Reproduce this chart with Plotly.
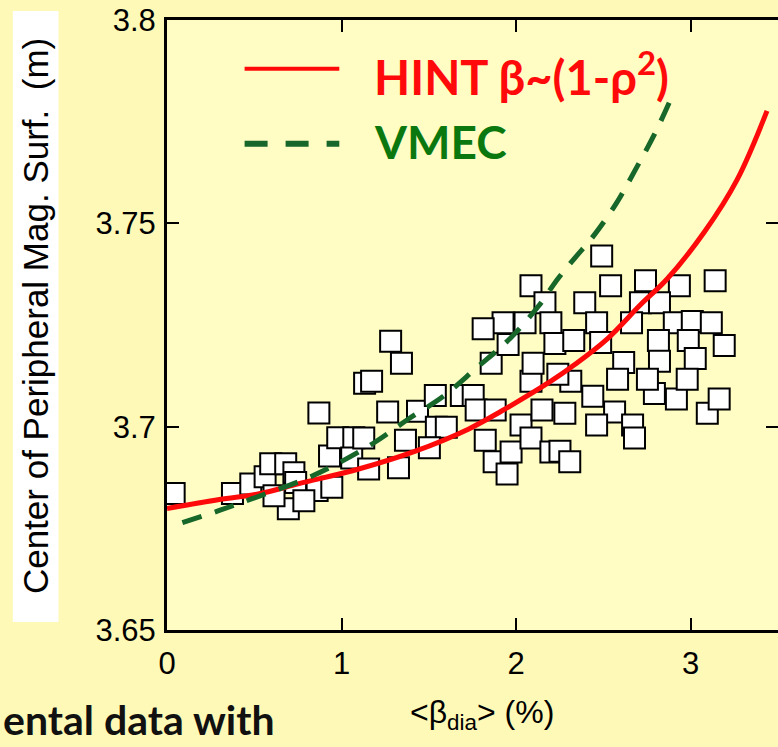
import plotly.graph_objects as go

# ---------------- data ----------------
exp_beta = [0.041, 0.375, 0.480, 0.562, 0.594, 0.680, 0.727, 0.737, 0.695, 0.860,
            0.870, 0.931, 0.978, 1.070, 0.944, 1.058, 1.132, 1.264, 1.435, 1.537,
            1.686, 1.754, 1.771, 1.880, 1.127, 1.366, 1.543, 1.600, 1.503, 1.326,
            1.155, 1.823, 1.874, 1.948, 1.971, 2.028, 2.085, 2.148, 2.199, 2.085,
            2.313, 2.439, 2.564, 2.461, 2.667, 2.678, 2.918, 3.095, 3.163, 2.251,
            2.307, 2.279, 2.792, 1.281, 1.343, 1.172, 2.085, 2.165, 1.925, 1.811,
            2.051, 2.199, 1.857, 1.954, 2.097, 2.222, 2.239, 2.490, 2.541, 2.741,
            2.935, 3.140, 2.393, 2.712, 2.821, 2.461, 2.661, 2.906, 3.009, 3.118,
            2.330, 2.815, 2.986, 3.192, 2.616, 2.821, 3.026, 2.484, 2.581, 2.752,
            2.980, 0.613, 0.784]
exp_rc = [3.6836, 3.6836, 3.6859, 3.6877, 3.6909, 3.6909, 3.6887, 3.6863, 3.6798, 3.6843,
          3.7034, 3.6928, 3.6973, 3.6973, 3.6851, 3.6923, 3.7107, 3.7036, 3.7038, 3.7077,
          3.7077, 3.7077, 3.7041, 3.7041, 3.6972, 3.6967, 3.6999, 3.6999, 3.6948, 3.6899,
          3.6896, 3.6967, 3.6914, 3.6884, 3.6938, 3.7004, 3.6972, 3.7041, 3.6938, 3.7112,
          3.7112, 3.7075, 3.7036, 3.7004, 3.7004, 3.6972, 3.7068, 3.7033, 3.7068, 3.6940,
          3.6914, 3.7033, 3.7082, 3.7210, 3.7156, 3.7112, 3.7347, 3.7305, 3.7256, 3.7241,
          3.7256, 3.7256, 3.7156, 3.7202, 3.7156, 3.7205, 3.7129, 3.7420, 3.7347, 3.7359,
          3.7347, 3.7359, 3.7305, 3.7305, 3.7305, 3.7256, 3.7256, 3.7256, 3.7259, 3.7256,
          3.7212, 3.7212, 3.7212, 3.7200, 3.7158, 3.7161, 3.7168, 3.7207, 3.7117, 3.7117,
          3.7117, 3.6830, 3.6818]

hint_beta = [0.0, 0.30, 0.528, 0.756, 1.098, 1.423, 1.726, 1.914, 2.199, 2.336,
             2.524, 2.712, 2.866, 3.078, 3.266, 3.437]
hint_rc = [3.6799, 3.6821, 3.6835, 3.6860, 3.6896, 3.6940, 3.6994, 3.7038, 3.7112, 3.7153,
           3.7217, 3.7300, 3.7364, 3.7479, 3.7608, 3.7777]

vmec_beta = [0.088, 0.30, 0.488, 0.796, 0.984, 1.184, 1.383, 1.583, 1.771, 1.965,
             2.125, 2.239, 2.342, 2.439, 2.570, 2.684, 2.792, 2.884]
vmec_rc = [3.6764, 3.6794, 3.6823, 3.6872, 3.6911, 3.6960, 3.7019, 3.7075, 3.7144, 3.7217,
           3.7295, 3.7364, 3.7418, 3.7467, 3.7547, 3.7633, 3.7719, 3.7804]

x_ticks = [0, 1, 2, 3]
x_tick_text = ["0", "1", "2", "3"]
y_ticks = [3.65, 3.7, 3.75, 3.8]
y_tick_text = ["3.65", "3.7", "3.75", "3.8"]

# ---------------- figure ----------------
SANS = "Liberation Sans, Arial, sans-serif"
BOLD = "Lato, Open Sans, sans-serif"
RED = "#FF0A0A"
GREEN_LINE = "#17662A"
GREEN_TXT = "#0B780F"

fig = go.Figure()
fig.add_trace(go.Scatter(
    x=exp_beta, y=exp_rc, mode="markers",
    marker=dict(symbol="square", size=21, color="white",
                line=dict(color="black", width=2)),
    showlegend=False, hoverinfo="skip"))
fig.add_trace(go.Scatter(
    x=hint_beta, y=hint_rc, mode="lines", line=dict(color=RED, width=5, shape="spline"),
    showlegend=False))
fig.add_trace(go.Scatter(
    x=vmec_beta, y=vmec_rc, mode="lines",
    line=dict(color=GREEN_LINE, width=5, dash="20px,14px", shape="spline"),
    showlegend=False))

axis_common = dict(showline=True, linecolor="black", linewidth=3, mirror="ticks",
                   ticks="inside", ticklen=12, tickwidth=2, tickcolor="black",
                   showgrid=False, zeroline=False,
                   tickfont=dict(family=SANS, size=31, color="black"))
fig.update_xaxes(range=[0, 3.5], tickvals=x_ticks, ticktext=x_tick_text,
                 ticklabelstandoff=4, **axis_common)
fig.update_yaxes(range=[3.65, 3.80005], tickvals=y_ticks, ticktext=y_tick_text,
                 ticklabelstandoff=2, **axis_common)

# y title box
fig.add_shape(type="rect", xref="paper", yref="paper",
              x0=-0.2524, x1=-0.1775, y0=0.013, y1=1.0147,
              fillcolor="white", line=dict(width=0), layer="below")
fig.add_annotation(xref="paper", yref="paper", x=-0.215, y=0.514,
                   xanchor="center", yanchor="middle",
                   text="Center of Peripheral Mag. Surf.\u00a0 (m)", textangle=-90,
                   showarrow=False, font=dict(family=SANS, size=35, color="black"))

# x title
fig.add_annotation(xref="paper", yref="paper", x=0.515, y=-0.138,
                   xanchor="center", yanchor="middle",
                   text="&lt;β<sub>dia</sub>&gt; (%)", showarrow=False,
                   font=dict(family=SANS, size=32, color="black"))

# legend (drawn manually)
fig.add_shape(type="line", xref="paper", yref="paper", x0=0.127, x1=0.282, y0=0.920, y1=0.920,
              line=dict(color=RED, width=4))
fig.add_shape(type="line", xref="paper", yref="paper", x0=0.127, x1=0.282, y0=0.797, y1=0.797,
              line=dict(color=GREEN_LINE, width=6, dash="23px,18px"))
fig.add_annotation(xref="paper", yref="paper", x=0.336, y=0.912,
                   xanchor="left", yanchor="middle",
                   text="<b>HINT β~(1-ρ<sup>2</sup>)</b>", showarrow=False,
                   font=dict(family=BOLD, size=47, color=RED))
fig.add_annotation(xref="paper", yref="paper", x=0.336, y=0.800,
                   xanchor="left", yanchor="middle",
                   text="<b>VMEC</b>", showarrow=False,
                   font=dict(family=BOLD, size=46, color=GREEN_TXT))

# caption text at bottom-left (continuation of the slide text)
fig.add_annotation(xref="paper", yref="paper", x=-0.270, y=-0.146,
                   xanchor="left", yanchor="middle", borderpad=0,
                   text="<b>ental data with</b>", showarrow=False,
                   font=dict(family=BOLD, size=41, color="#111111"))

fig.update_layout(width=784, height=747,
                  margin=dict(l=167, r=3, t=17, b=117),
                  paper_bgcolor="#FEF9B6", plot_bgcolor="#FFFDC3",
                  showlegend=False)

fig.write_html("out.html",
               post_script="document.documentElement.style.overflow='hidden';"
                           "document.body.style.overflow='hidden';document.body.style.margin='0';")
